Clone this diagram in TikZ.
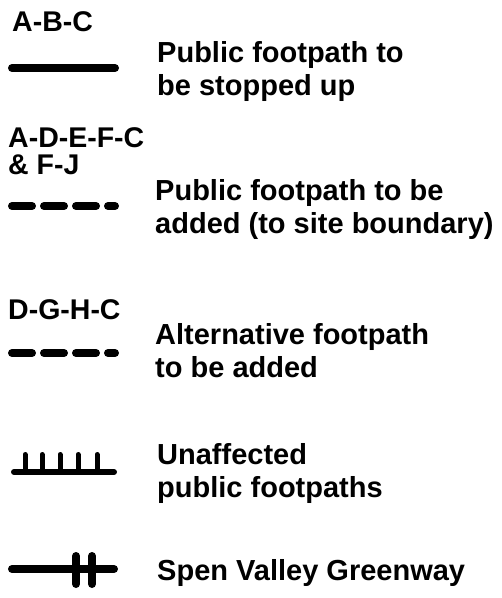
\documentclass[tikz,border=0pt]{standalone}
\usepackage{fontspec}
\setmainfont{Liberation Sans}
\usepackage{tikz}

\tikzset{
  lbl/.style={anchor=base west, inner sep=0pt, align=left, font=\fontsize{28.5}{27}\selectfont\bfseries},
  desc/.style={anchor=base west, inner sep=0pt, align=left, font=\fontsize{29}{33}\selectfont\bfseries},
  fpath/.style={line width=8pt, line cap=round},
  fdashed/.style={fpath, dash pattern=on 20pt off 12pt},
  tickline/.style={line width=6pt, line cap=round},
  tickmark/.style={line width=5pt, line cap=round},
}

\begin{document}
\begin{tikzpicture}[x=1pt, y=-1pt]
\useasboundingbox (0,0) rectangle (502,598);
%\draw [help lines, step=50] (0,0) grid (502,598);
% two-line nodes sit on the baseline of their last line
\draw (12, 31) node [lbl] (abc) {A-B-C};
\draw [fpath] (12, 68) -- (115, 68);
\draw (157, 95) node [desc] (stopped) {Public footpath to\\be stopped up};
\draw (8, 174) node [lbl] (adefc) {A-D-E-F-C\\\& F-J};
\draw [fdashed] (12, 206) -- (115, 206);
\draw (155, 233) node [desc] (added) {Public footpath to be\\added (to site boundary)};
\draw (8, 319) node [lbl] (dghc) {D-G-H-C};
\draw [fdashed] (12, 353) -- (115, 353);
\draw (155, 377) node [desc] (alt) {Alternative footpath\\to be added};
\draw [tickline] (14, 472) -- (114, 472);
\foreach \x in {25, 42, 60, 78, 97}
  \draw [tickmark] (\x, 454.5) -- (\x, 472);
\draw (157, 497) node [desc] (unaff) {Unaffected\\public footpaths};
\draw [fpath] (12, 569) -- (114, 569);
\draw [fpath] (76, 556) -- (76, 584);
\draw [fpath] (92, 556) -- (92, 584);
\draw (157, 580) node [desc] (spen) {Spen Valley Greenway};
\end{tikzpicture}
\end{document}
